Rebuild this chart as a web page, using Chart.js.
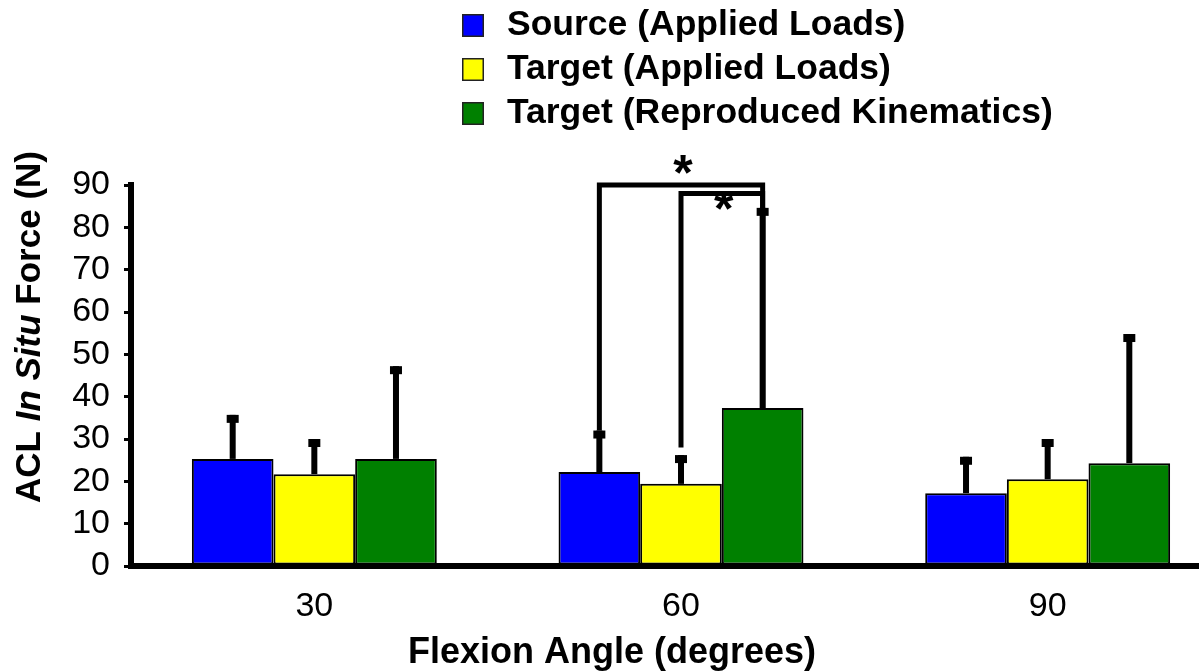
<!DOCTYPE html>
<html>
<head>
<meta charset="utf-8">
<title>ACL In Situ Force</title>
<script src="https://cdn.jsdelivr.net/npm/chart.js@4.4.1/dist/chart.umd.min.js"></script>
<style>
  html, body { margin: 0; padding: 0; background: #fff; overflow: hidden; }
  #wrap { width: 1240px; height: 671px; }
</style>
</head>
<body>
<div id="wrap"><canvas id="chart" width="1240" height="671"></canvas></div>
<script>
// ========================== DATA ==========================
const angles = ["30", "60", "90"];
const seriesNames = ["Source (Applied Loads)", "Target (Applied Loads)", "Target (Reproduced Kinematics)"];
const seriesColors = ["#0000ff", "#ffff00", "#008000"];

// mean force (N)
const sourceLoads = [25.3, 22.2, 17.2];
const targetLoads = [21.7, 19.4, 20.5];
const targetKinematics = [25.3, 37.3, 24.3];

// standard deviation, drawn upwards only
const sourceSD = [10.4, 9.8, 8.6];
const targetSD = [8.3, 6.8, 9.5];
const kinematicsSD = [21.9, 47.3, 30.5];

const yMin = 0, yMax = 90, yStep = 10;

// significant differences: group index, the two series compared, bracket level and left foot (N)
const sigGroup = [1, 1];
const sigFrom = [0, 1];
const sigTo = [2, 2];
const sigLevel = [90, 88];
const sigFoot = [32, 28];

// ========================== STYLE ==========================
const FONT = '"Liberation Sans", Arial, Helvetica, sans-serif';
const starOffset = [-21, 7];

// ========================== PLUGINS ==========================
const errorBars = {
  id: "errorBars",
  afterDatasetsDraw(chart) {
    const ctx = chart.ctx;
    const y = chart.scales.y;
    ctx.save();
    ctx.fillStyle = "#000";
    chart.data.datasets.forEach((ds, i) => {
      chart.getDatasetMeta(i).data.forEach((bar, j) => {
        const top = y.getPixelForValue(ds.data[j] + ds.sd[j]);
        ctx.fillRect(bar.x - 3, top, 6, bar.y - top);
        ctx.fillRect(bar.x - 6, top, 12, 8);
      });
    });
    ctx.restore();
  }
};

const sigBrackets = {
  id: "sigBrackets",
  afterDatasetsDraw(chart) {
    const ctx = chart.ctx;
    const y = chart.scales.y;
    ctx.save();
    ctx.strokeStyle = "#000";
    ctx.fillStyle = "#000";
    ctx.lineWidth = 5;
    ctx.lineJoin = "miter";
    sigGroup.forEach((g, k) => {
      const left = chart.getDatasetMeta(sigFrom[k]).data[g];
      const right = chart.getDatasetMeta(sigTo[k]).data[g];
      const yTop = y.getPixelForValue(sigLevel[k]);
      const yFoot = y.getPixelForValue(sigFoot[k]);
      ctx.beginPath();
      ctx.moveTo(left.x, yFoot);
      ctx.lineTo(left.x, yTop);
      ctx.lineTo(right.x, yTop);
      ctx.lineTo(right.x, right.y);
      ctx.stroke();

      ctx.font = "bold 50px " + FONT;
      ctx.textAlign = "center";
      ctx.textBaseline = "alphabetic";
      const m = ctx.measureText("*");
      const cy = yTop + starOffset[k];
      const base = cy + (m.actualBoundingBoxAscent - m.actualBoundingBoxDescent) / 2;
      ctx.fillText("*", (left.x + right.x) / 2 + 2, base);
    });
    ctx.restore();
  }
};

const titlesAndLegend = {
  id: "titlesAndLegend",
  afterDraw(chart) {
    const ctx = chart.ctx;
    ctx.save();
    ctx.fillStyle = "#000";

    // y axis title, "In Situ" in italics
    const parts = [["ACL ", "bold"], ["In Situ", "italic bold"], [" Force (N)", "bold"]];
    const size = 35;
    let total = 0;
    parts.forEach(p => { ctx.font = p[1] + " " + size + "px " + FONT; total += ctx.measureText(p[0]).width; });
    ctx.translate(40, 327);
    ctx.rotate(-Math.PI / 2);
    ctx.textAlign = "left";
    ctx.textBaseline = "alphabetic";
    let x = -total / 2;
    parts.forEach(p => {
      ctx.font = p[1] + " " + size + "px " + FONT;
      ctx.fillText(p[0], x, 0);
      x += ctx.measureText(p[0]).width;
    });
    ctx.setTransform(1, 0, 0, 1, 0, 0);

    // x axis title
    ctx.font = "bold 36px " + FONT;
    ctx.textAlign = "center";
    ctx.fillText("Flexion Angle (degrees)", 612, 663);

    // legend
    ctx.textAlign = "left";
    ctx.font = "bold 35.5px " + FONT;
    chart.data.datasets.forEach((ds, i) => {
      const base = 35 + i * 44;
      ctx.fillStyle = ds.backgroundColor;
      ctx.fillRect(462, base - 21, 22, 23);
      ctx.strokeStyle = "#222";
      ctx.lineWidth = 1.5;
      ctx.strokeRect(462.75, base - 20.25, 20.5, 21.5);
      ctx.fillStyle = "#000";
      ctx.fillText(ds.label, 507, base);
    });
    ctx.restore();
  }
};

// ========================== CHART ==========================
const sdLists = [sourceSD, targetSD, kinematicsSD];
const valueLists = [sourceLoads, targetLoads, targetKinematics];

new Chart(document.getElementById("chart"), {
  type: "bar",
  data: {
    labels: angles,
    datasets: seriesNames.map((name, i) => ({
      label: name,
      data: valueLists[i],
      sd: sdLists[i],
      backgroundColor: seriesColors[i],
      borderColor: "#000",
      borderWidth: 2,
      borderSkipped: false
    }))
  },
  options: {
    responsive: false,
    animation: false,
    devicePixelRatio: 1,
    layout: { padding: { top: 185, right: 9, bottom: 0, left: 0 } },
    datasets: { bar: { categoryPercentage: 0.668, barPercentage: 1 } },
    plugins: { legend: { display: false }, tooltip: { enabled: false } },
    scales: {
      x: {
        grid: { display: false, drawTicks: false },
        border: { display: true, color: "#000", width: 6 },
        ticks: { color: "#000", font: { family: FONT, size: 34 }, padding: 20 },
        afterFit(scale) { scale.height = 105; }
      },
      y: {
        min: yMin,
        max: yMax,
        grid: { drawOnChartArea: false, drawTicks: true, tickLength: 7, color: "#000", lineWidth: 3 },
        border: { display: true, color: "#000", width: 6 },
        ticks: { stepSize: yStep, autoSkip: false, color: "#000", font: { family: FONT, size: 34 }, padding: 14 },
        afterFit(scale) { scale.width = 131; }
      }
    }
  },
  plugins: [errorBars, sigBrackets, titlesAndLegend]
});
</script>
</body>
</html>
